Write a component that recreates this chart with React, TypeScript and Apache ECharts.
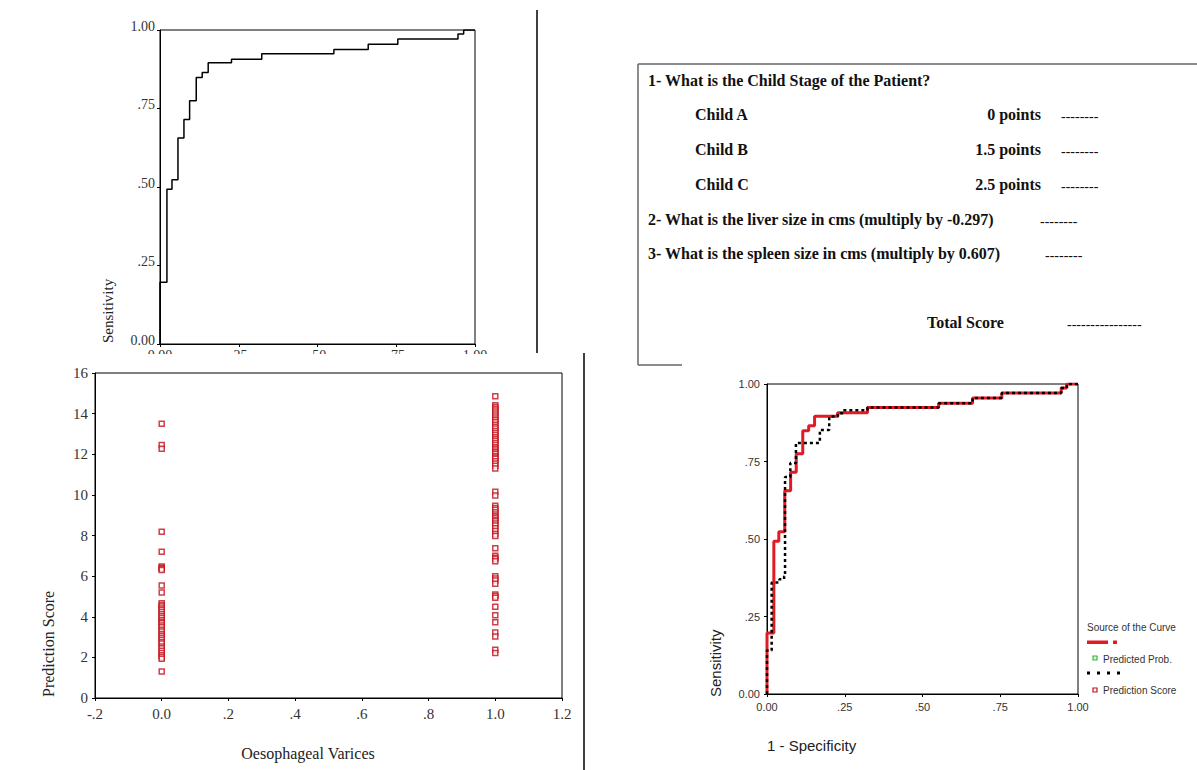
import React, { useEffect, useRef } from "react";
import * as echarts from "echarts";

// ROC curve vertices (1 - specificity, sensitivity) for the prediction score / predicted probability
const rocFpr = [0, 0, 0.022, 0.038, 0.057, 0.076, 0.094, 0.115, 0.134, 0.153, 0.227, 0.323, 0.552, 0.661, 0.755, 0.946, 0.964, 1.0];
const rocTpr = [0, 0.197, 0.493, 0.523, 0.656, 0.715, 0.775, 0.849, 0.865, 0.896, 0.907, 0.924, 0.938, 0.955, 0.971, 0.987, 1.0, 1.0];

// Second ROC curve (black dotted)
const scoreFpr = [0, 0, 0.015, 0.04, 0.055, 0.058, 0.075, 0.093, 0.17, 0.2, 0.228, 0.245, 0.323, 0.552, 0.661, 0.755, 0.946, 0.964, 1.0];
const scoreTpr = [0, 0.14, 0.36, 0.37, 0.38, 0.7, 0.745, 0.81, 0.852, 0.895, 0.906, 0.915, 0.924, 0.938, 0.955, 0.971, 0.987, 1.0, 1.0];

// Prediction score by oesophageal varices (0 = absent, 1 = present)
const scoresNoVarices = [13.5, 12.45, 12.27, 8.18, 7.2, 6.47, 6.41, 6.36, 6.3, 5.54, 5.2, 4.66, 4.58, 4.5, 4.41, 4.33, 4.24, 4.12, 4.03, 3.94, 3.83, 3.74, 3.68, 3.57, 3.48, 3.36, 3.27, 3.15, 3.06, 2.97, 2.87, 2.76, 2.68, 2.54, 2.45, 2.33, 2.22, 2.1, 2.02, 1.93, 1.31];
const scoresVarices = [14.86, 14.41, 14.33, 14.24, 14.15, 14.05, 13.96, 13.86, 13.76, 13.67, 13.57, 13.45, 13.36, 13.27, 13.15, 13.05, 12.95, 12.84, 12.75, 12.66, 12.55, 12.45, 12.35, 12.27, 12.19, 12.1, 12.03, 11.92, 11.84, 11.78, 11.66, 11.55, 11.43, 11.3, 10.16, 9.97, 9.47, 9.36, 9.27, 9.15, 9.03, 8.95, 8.87, 8.78, 8.7, 8.59, 8.49, 8.36, 8.22, 8.08, 7.97, 7.37, 7.0, 6.9, 6.84, 6.73, 6.0, 5.88, 5.79, 5.62, 5.1, 5.02, 4.94, 4.49, 4.08, 3.73, 3.23, 3.03, 2.38, 2.22];

const rocTicks = ["0.00", ".25", ".50", ".75", "1.00"];
const scatterXTicks = ["-.2", "0.0", ".2", ".4", ".6", ".8", "1.0", "1.2"];

const serif = '"Liberation Serif", "Times New Roman", serif';
const sans = '"Liberation Sans", Arial, sans-serif';
const RED = "#e01b24";
const MARK = "#c0101c";

const fmtRoc = (v: number) => rocTicks[Math.round(v / 0.25)] ?? "";
const fmtScatterX = (v: number) => scatterXTicks[Math.round((v + 0.2) / 0.2)] ?? "";

function axis(gridIndex: number, min: number, max: number, interval: number, formatter: any, font: string, size: number, margin: number, extra: any = {}) {
  return {
    type: "value",
    gridIndex,
    min,
    max,
    interval,
    axisLine: { show: true, onZero: false, lineStyle: { color: "#000", width: 1 } },
    axisTick: { show: true, length: 3, lineStyle: { color: "#000" } },
    splitLine: { show: false },
    axisLabel: { formatter, fontFamily: font, fontSize: size, color: "#333", margin, ...extra },
  };
}

function txt(text: string, x: number, y: number, font: string, align = "left", fill = "#111", rotation = 0) {
  return {
    type: "text",
    x,
    y,
    z: 100,
    rotation,
    style: { text, font, fill, textAlign: align, textVerticalAlign: "middle" },
  };
}

function ln(x1: number, y1: number, x2: number, y2: number, stroke = "#000", lineWidth = 1.5, lineDash?: number[]) {
  return {
    type: "line",
    z: 100,
    shape: { x1, y1, x2, y2 },
    style: { stroke, lineWidth, lineDash },
  };
}

export default function App() {
  const ref = useRef<HTMLDivElement>(null);

  useEffect(() => {
    if (!ref.current) return;
    const chart = echarts.init(ref.current, undefined, { renderer: "svg" });

    const rocData = rocFpr.map((x, i) => [x, rocTpr[i]]);
    const scoreData = scoreFpr.map((x, i) => [x, scoreTpr[i]]);

    const qBold = `bold 16px ${serif}`;
    const dash = `14px ${serif}`;

    chart.setOption({
      animation: false,
      backgroundColor: "#fff",
      grid: [
        { left: 160, top: 30, width: 315, height: 314, show: true, borderColor: "#000", borderWidth: 1 },
        { left: 95, top: 373, width: 467, height: 325, show: true, borderColor: "#000", borderWidth: 1 },
        { left: 767, top: 384, width: 311, height: 310, show: true, borderColor: "#000", borderWidth: 1 },
      ],
      xAxis: [
        axis(0, 0, 1, 0.25, fmtRoc, serif, 14, 4),
        axis(1, -0.2, 1.2, 0.2, fmtScatterX, serif, 15, 8),
        axis(2, 0, 1, 0.25, fmtRoc, sans, 11, 7),
      ],
      yAxis: [
        axis(0, 0, 1, 0.25, fmtRoc, serif, 14, 5, { verticalAlign: "bottom", lineHeight: 8 }),
        axis(1, 0, 16, 2, undefined, serif, 15, 7),
        axis(2, 0, 1, 0.25, fmtRoc, sans, 11, 7),
      ],
      series: [
        {
          type: "line",
          xAxisIndex: 0,
          yAxisIndex: 0,
          data: rocData,
          step: "end",
          symbol: "none",
          lineStyle: { color: "#000", width: 1.5 },
        },
        {
          type: "scatter",
          name: "No varices",
          xAxisIndex: 1,
          yAxisIndex: 1,
          data: scoresNoVarices.map((v) => [0, v]),
          symbol: "rect",
          symbolSize: 5,
          itemStyle: { color: "#fff", borderColor: MARK, borderWidth: 1.5 },
        },
        {
          type: "scatter",
          name: "Varices",
          xAxisIndex: 1,
          yAxisIndex: 1,
          data: scoresVarices.map((v) => [1, v]),
          symbol: "rect",
          symbolSize: 5,
          itemStyle: { color: "#fff", borderColor: MARK, borderWidth: 1.5 },
        },
        {
          type: "line",
          name: "Predicted Prob.",
          xAxisIndex: 2,
          yAxisIndex: 2,
          data: rocData,
          step: "end",
          symbol: "none",
          lineStyle: { color: RED, width: 3 },
        },
        {
          type: "line",
          name: "Prediction Score",
          xAxisIndex: 2,
          yAxisIndex: 2,
          data: scoreData,
          step: "end",
          symbol: "none",
          lineStyle: { color: "#000", width: 2.5, type: [3, 3] },
        },
      ],
      graphic: [
        // cut-off strip below the top-left ROC panel
        { type: "rect", z: 90, shape: { x: 60, y: 354, width: 480, height: 12 }, style: { fill: "#fff" } },
        // panel separators
        ln(537, 10, 537, 353, "#000", 1.5),
        ln(584, 353, 584, 770, "#000", 1.5),
        // scoring box
        ln(638, 64, 1197, 64, "#666", 1.5),
        ln(638, 64, 638, 365, "#666", 1.5),
        ln(638, 365, 682, 365, "#666", 1.5),
        txt("1- What is the Child Stage of the Patient?", 648, 80, qBold),
        txt("Child A", 695, 114, qBold),
        txt("0 points", 1041, 114, qBold, "right"),
        txt("--------", 1061, 116, dash),
        txt("Child B", 695, 149, qBold),
        txt("1.5 points", 1041, 149, qBold, "right"),
        txt("--------", 1061, 151, dash),
        txt("Child C", 695, 184, qBold),
        txt("2.5 points", 1041, 184, qBold, "right"),
        txt("--------", 1061, 186, dash),
        txt("2- What is the liver size in cms (multiply by -0.297)", 648, 219, qBold),
        txt("--------", 1040, 221, dash),
        txt("3- What is the spleen size in cms (multiply by 0.607)", 648, 253, qBold),
        txt("--------", 1045, 255, dash),
        txt("Total Score", 927, 322, qBold),
        txt("----------------", 1067, 324, dash),
        // axis titles
        txt("Sensitivity", 108, 343, `15px ${serif}`, "left", "#222", Math.PI / 2),
        txt("Prediction Score", 48, 697, `16px ${serif}`, "left", "#222", Math.PI / 2),
        txt("Oesophageal Varices", 308, 753, `16px ${serif}`, "center", "#222"),
        txt("Sensitivity", 715, 697, `15px ${sans}`, "left", "#222", Math.PI / 2),
        txt("1 - Specificity", 767, 745, `15px ${sans}`, "left", "#222"),
        // legend
        txt("Source of the Curve", 1087, 627, `10px ${sans}`, "left", "#333"),
        { type: "rect", z: 100, shape: { x: 1087, y: 640.5, width: 21, height: 3.5 }, style: { fill: RED } },
        { type: "rect", z: 100, shape: { x: 1113, y: 640.5, width: 4, height: 3.5 }, style: { fill: RED } },
        { type: "rect", z: 100, shape: { x: 1093, y: 656, width: 4, height: 4 }, style: { fill: "#dff5d8", stroke: "#3cb043", lineWidth: 1.2 } },
        txt("Predicted Prob.", 1103, 659, `10px ${sans}`, "left", "#333"),
        ln(1087, 673, 1120, 673, "#000", 3, [3, 7]),
        { type: "rect", z: 100, shape: { x: 1093, y: 688, width: 4, height: 4 }, style: { fill: "#fff", stroke: MARK, lineWidth: 1.2 } },
        txt("Prediction Score", 1103, 690, `10px ${sans}`, "left", "#333"),
      ],
    });

    return () => chart.dispose();
  }, []);

  return (
    <div
      ref={ref}
      style={{ position: "fixed", left: 0, top: 0, width: 1197, height: 770, background: "#fff" }}
    />
  );
}
